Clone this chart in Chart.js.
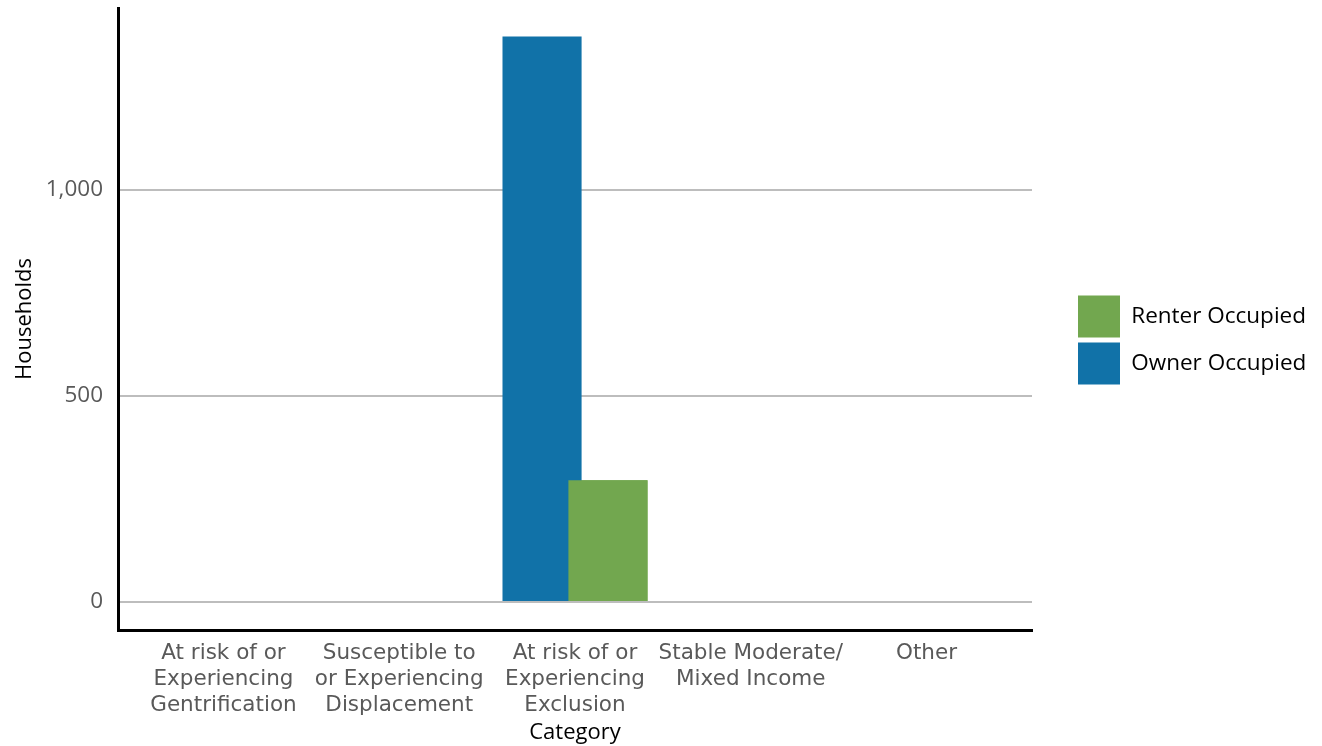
<!DOCTYPE html>
<html>
<head>
<meta charset="utf-8">
<script src="https://cdn.jsdelivr.net/npm/chart.js@4/dist/chart.umd.min.js"></script>
<style>
  html, body { margin: 0; padding: 0; background: #fff; }
  #wrap { width: 1322px; height: 746px; }
</style>
</head>
<body>
<div id="wrap"><canvas id="chart"></canvas></div>
<script>
// categories (x tick labels, already split into lines)
const categories = [
  ["At risk of or", "Experiencing", "Gentrification"],
  ["Susceptible to", "or Experiencing", "Displacement"],
  ["At risk of or", "Experiencing", "Exclusion"],
  ["Stable Moderate/", "Mixed Income"],
  ["Other"]
];
const ownerOccupied = [0, 0, 1372, 0, 0];
const renterOccupied = [0, 0, 295, 0, 0];
const yTicks = [0, 500, 1000];

const LABEL_FONT = "'DejaVu Sans', sans-serif";
const UI_FONT = "'Open Sans', sans-serif";

/* ========== legend placement: keep a wide gap right of the plot ========== */
const legendPlace = {
  id: "legendPlace",
  beforeLayout(chart) {
    const lg = chart.legend;
    if (!lg || lg._wrapped) return;
    const fit = lg.fit;
    lg.fit = function () { fit.call(this); this.width = 290; };
    lg._wrapped = true;
  },
  afterLayout(chart) {
    const lg = chart.legend;
    lg.left += 41; lg.right += 41;
    lg.top += 21; lg.bottom += 21;
  }
};

// renter bars sit on top of the owner bars where they overlap
const renterOnTop = {
  id: "renterOnTop",
  afterDatasetsDraw(chart) {
    chart.getDatasetMeta(1).data.forEach(b => b.draw(chart.ctx));
  }
};

new Chart(document.getElementById("chart"), {
  type: "bar",
  data: {
    datasets: [
      {
        label: "Owner Occupied",
        data: ownerOccupied.map((v, i) => ({ x: i, y: v })),
        backgroundColor: "#1172a8"
      },
      {
        label: "Renter Occupied",
        data: renterOccupied.map((v, i) => ({ x: i, y: v })),
        backgroundColor: "#72a74f"
      }
    ]
  },
  options: {
    responsive: true,
    maintainAspectRatio: false,
    animation: false,
    categoryPercentage: 0.75,
    barPercentage: 1.2,
    layout: { padding: { top: 8, left: 8, right: 0, bottom: 0 } },
    plugins: {
      tooltip: { enabled: false },
      legend: {
        position: "right",
        fullSize: false,
        reverse: true,
        labels: {
          boxWidth: 42,
          boxHeight: 42,
          padding: 5,
          color: "#000",
          font: { family: UI_FONT, size: 22.5 }
        }
      }
    },
    scales: {
      x: {
        type: "linear",
        min: -0.6,
        max: 4.6,
        offset: false,
        afterBuildTicks: scale => {
          scale.ticks = categories.map((c, i) => ({ value: i }));
        },
        afterFit: scale => {
          scale.height = 116;
          scale.paddingLeft = 0;
          scale.paddingRight = 0;
        },
        grid: { display: false, drawTicks: false },
        border: { display: true, color: "#000", width: 3 },
        ticks: {
          autoSkip: false,
          maxRotation: 0,
          padding: 10,
          color: "#595959",
          font: { family: LABEL_FONT, size: 21.5, lineHeight: 1.21 },
          callback: v => categories[v]
        },
        title: {
          display: true,
          text: "Category",
          color: "#000",
          padding: { top: 5, bottom: 0 },
          font: { family: UI_FONT, size: 22 }
        }
      },
      y: {
        min: -68,
        max: 1441,
        afterBuildTicks: scale => {
          scale.ticks = yTicks.map(v => ({ value: v }));
        },
        afterFit: scale => {
          scale.width = 110;
          scale.paddingTop = 0;
          scale.paddingBottom = 0;
        },
        grid: { color: "#bdbdbd", lineWidth: 2, drawTicks: false },
        border: { display: true, color: "#000", width: 3 },
        ticks: {
          padding: 15,
          color: "#595959",
          font: { family: UI_FONT, size: 22.5 },
          callback: v => v.toLocaleString("en-US")
        },
        title: {
          display: true,
          text: "Households",
          color: "#000",
          padding: { top: 4, bottom: 10 },
          font: { family: UI_FONT, size: 22 }
        }
      }
    }
  },
  plugins: [legendPlace, renterOnTop]
});
</script>
</body>
</html>
